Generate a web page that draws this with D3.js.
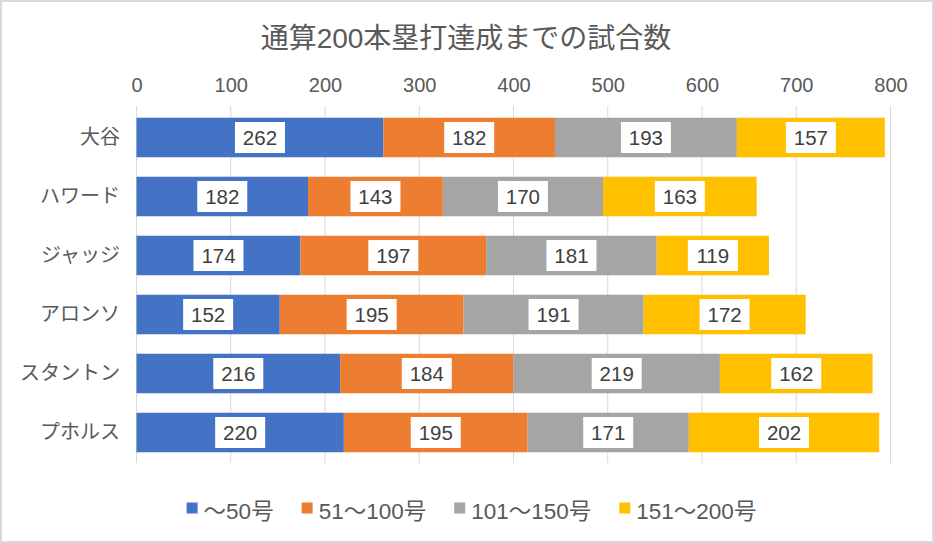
<!DOCTYPE html>
<html><head><meta charset="utf-8">
<script src="https://cdn.jsdelivr.net/npm/d3@7"></script>
<style>
html,body{margin:0;padding:0;background:#fff;}
svg{display:block;font-family:"Liberation Sans",Arial,"Noto Sans CJK JP",sans-serif;}
</style></head><body>
<script>
const title = "通算200本塁打達成までの試合数";
const categories = ["大谷","ハワード","ジャッジ","アロンソ","スタントン","プホルス"];
const seriesNames = ["～50号","51～100号","101～150号","151～200号"];
const s1 = [262,182,174,152,216,220];
const s2 = [182,143,197,195,184,195];
const s3 = [193,170,181,191,219,171];
const s4 = [157,163,119,172,162,202];
const colors = ["#4472C4","#ED7D31","#A5A5A5","#FFC000"];
const xTicks = [0,100,200,300,400,500,600,700,800];

const W = 934, H = 543;
const svg = d3.select("body").append("svg").attr("width",W).attr("height",H);
svg.append("rect").attr("x",1).attr("y",1).attr("width",W-2).attr("height",H-2)
  .attr("fill","#fff").attr("stroke","#d9d9d9").attr("stroke-width",2);

svg.append("text").attr("x",466).attr("y",48).attr("text-anchor","middle")
  .attr("font-size",28).attr("fill","#595959").text(title);

const x = d3.scaleLinear().domain([0,800]).range([136.5,890.5]);
const y = d3.scaleBand().domain(categories).range([108,462]).paddingInner(0.33).paddingOuter(0.165);

// gridlines
svg.append("g").selectAll("line").data(xTicks).join("line")
  .attr("x1",d=>x(d)).attr("x2",d=>x(d)).attr("y1",106).attr("y2",463)
  .attr("stroke","#d9d9d9").attr("stroke-width",1);

// top axis labels
const ax = svg.append("g").attr("transform","translate(0,91.5)")
  .call(d3.axisTop(x).tickValues(xTicks).tickSize(0).tickPadding(0));
ax.select(".domain").remove();
ax.selectAll("text").attr("font-size",20).attr("fill","#595959")
  .attr("font-family","\"Liberation Sans\",Arial,sans-serif").attr("dy",0);

// category labels
const ay = svg.append("g").attr("transform","translate(120,0)")
  .call(d3.axisLeft(y).tickSize(0).tickPadding(0));
ay.select(".domain").remove();
ay.selectAll("text").attr("font-size",20).attr("fill","#595959")
  .attr("font-family","\"Noto Sans CJK JP\",sans-serif");

const seriesVals = [s1,s2,s3,s4];
const rows = categories.map((c,i)=>{
  const r = {cat:c};
  seriesNames.forEach((n,j)=>r[n]=seriesVals[j][i]);
  return r;
});
const stacked = d3.stack().keys(seriesNames)(rows);

const g = svg.append("g");
stacked.forEach((layer,j)=>{
  g.append("g").selectAll("rect").data(layer).join("rect")
    .attr("x",d=>x(d[0])).attr("width",d=>x(d[1])-x(d[0]))
    .attr("y",d=>y(d.data.cat)).attr("height",y.bandwidth())
    .attr("fill",colors[j]);
});
// labels
stacked.forEach((layer,j)=>{
  const lg = g.append("g").selectAll("g").data(layer).join("g")
    .attr("transform",d=>`translate(${(x(d[0])+x(d[1]))/2},${y(d.data.cat)+y.bandwidth()/2})`);
  lg.append("rect").attr("x",-25).attr("y",-15.5).attr("width",50).attr("height",31).attr("fill","#fff");
  lg.append("text").attr("text-anchor","middle").attr("dy","0.36em")
    .attr("font-size",20.5).attr("fill","#404040").text(d=>d[1]-d[0]);
});

// legend
const leg = svg.append("g");
const items = leg.selectAll("g").data(seriesNames).join("g");
items.append("rect").attr("width",11).attr("height",11).attr("y",-11).attr("fill",(d,i)=>colors[i]);
items.append("text").attr("x",17).attr("font-size",22.5).attr("fill","#595959")
  .attr("dy",0).text(d=>d).attr("y",5);
const widths = [];
items.each(function(){ widths.push(17 + this.querySelector("text").getComputedTextLength()); });
const gap = 28;
const total = d3.sum(widths) + gap*(widths.length-1);
let start = 471.5 - total/2;
items.attr("transform",(d,i)=>{
  const t = `translate(${start},513.5)`;
  start += widths[i] + gap;
  return t;
});
</script>
</body></html>
